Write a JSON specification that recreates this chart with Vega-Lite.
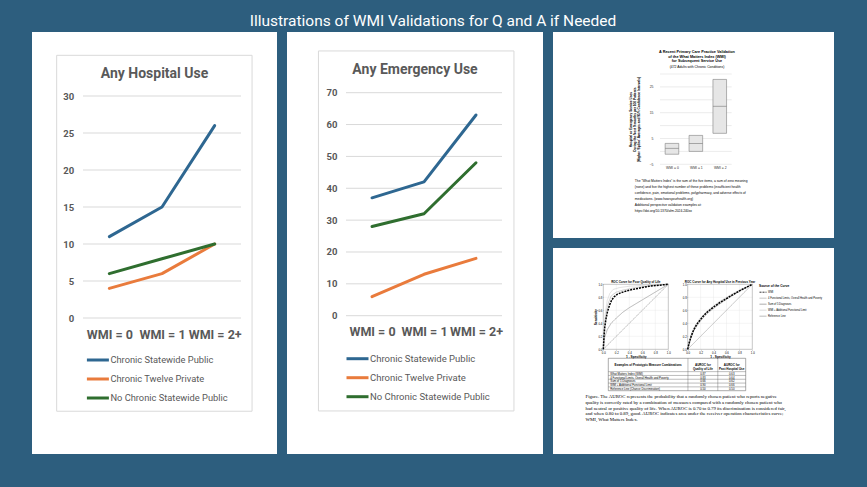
{
"$schema":"https://vega.github.io/schema/vega-lite/v6.json",
"background":"#2d5e7e",
"padding":{"left":32,"top":13,"right":33,"bottom":33},
"title":{"text":"Illustrations of WMI Validations for Q and A if Needed","color":"white","fontSize":15.5,"font":"Roboto","fontWeight":"normal","anchor":"middle","frame":"bounds","offset":3,"baseline":"top"},
"resolve":{"scale":{"color":"independent","strokeDash":"independent"},"legend":{"color":"independent","strokeDash":"independent"}},
"datasets":{
"lines":[
{"chart":"hosp","group":"Chronic Statewide Public","wmi":0,"value":11},
{"chart":"hosp","group":"Chronic Statewide Public","wmi":1,"value":15},
{"chart":"hosp","group":"Chronic Statewide Public","wmi":2,"value":26},
{"chart":"hosp","group":"Chronic Twelve Private","wmi":0,"value":4},
{"chart":"hosp","group":"Chronic Twelve Private","wmi":1,"value":6},
{"chart":"hosp","group":"Chronic Twelve Private","wmi":2,"value":10},
{"chart":"hosp","group":"No Chronic Statewide Public","wmi":0,"value":6},
{"chart":"hosp","group":"No Chronic Statewide Public","wmi":1,"value":8},
{"chart":"hosp","group":"No Chronic Statewide Public","wmi":2,"value":10},
{"chart":"er","group":"Chronic Statewide Public","wmi":0,"value":37},
{"chart":"er","group":"Chronic Statewide Public","wmi":1,"value":42},
{"chart":"er","group":"Chronic Statewide Public","wmi":2,"value":63},
{"chart":"er","group":"Chronic Twelve Private","wmi":0,"value":6},
{"chart":"er","group":"Chronic Twelve Private","wmi":1,"value":13},
{"chart":"er","group":"Chronic Twelve Private","wmi":2,"value":18},
{"chart":"er","group":"No Chronic Statewide Public","wmi":0,"value":28},
{"chart":"er","group":"No Chronic Statewide Public","wmi":1,"value":32},
{"chart":"er","group":"No Chronic Statewide Public","wmi":2,"value":48}
],
"grid1":[{"v":0},{"v":5},{"v":10},{"v":15},{"v":20},{"v":25},{"v":30}],
"grid2":[{"v":0},{"v":10},{"v":20},{"v":30},{"v":40},{"v":50},{"v":60},{"v":70}],
"grid3":[{"v":-5},{"v":0},{"v":5},{"v":10},{"v":15},{"v":20},{"v":25},{"v":30}],
"grid5":[{"v":0.2},{"v":0.4},{"v":0.6},{"v":0.8}],
"ci":[
{"wmi":0,"lower":-1.1,"avg":1.2,"upper":3.1},
{"wmi":1,"lower":0,"avg":3.1,"upper":6.2},
{"wmi":2,"lower":7,"avg":17.5,"upper":27.9}
],
"rocTitles":[
{"chart":"qol","title":"ROC Curve for Poor Quality of Life"},
{"chart":"hosp","title":"ROC Curve for Any Hospital Use in Previous Year"}
],
"roc":[
{"chart":"qol","curve":"WMI","fpr":0,"tpr":0},{"chart":"qol","curve":"WMI","fpr":0.01,"tpr":0.18},{"chart":"qol","curve":"WMI","fpr":0.02,"tpr":0.32},{"chart":"qol","curve":"WMI","fpr":0.04,"tpr":0.46},{"chart":"qol","curve":"WMI","fpr":0.06,"tpr":0.56},{"chart":"qol","curve":"WMI","fpr":0.08,"tpr":0.63},{"chart":"qol","curve":"WMI","fpr":0.1,"tpr":0.69},{"chart":"qol","curve":"WMI","fpr":0.13,"tpr":0.76},{"chart":"qol","curve":"WMI","fpr":0.17,"tpr":0.81},{"chart":"qol","curve":"WMI","fpr":0.22,"tpr":0.85},{"chart":"qol","curve":"WMI","fpr":0.3,"tpr":0.88},{"chart":"qol","curve":"WMI","fpr":0.4,"tpr":0.91},{"chart":"qol","curve":"WMI","fpr":0.5,"tpr":0.93},{"chart":"qol","curve":"WMI","fpr":0.6,"tpr":0.95},{"chart":"qol","curve":"WMI","fpr":0.7,"tpr":0.97},{"chart":"qol","curve":"WMI","fpr":0.8,"tpr":0.98},{"chart":"qol","curve":"WMI","fpr":0.9,"tpr":0.99},{"chart":"qol","curve":"WMI","fpr":1,"tpr":1},
{"chart":"qol","curve":"4 Functional Limits, Overall Health and Poverty","fpr":0,"tpr":0},{"chart":"qol","curve":"4 Functional Limits, Overall Health and Poverty","fpr":0.02,"tpr":0.38},{"chart":"qol","curve":"4 Functional Limits, Overall Health and Poverty","fpr":0.05,"tpr":0.6},{"chart":"qol","curve":"4 Functional Limits, Overall Health and Poverty","fpr":0.08,"tpr":0.72},{"chart":"qol","curve":"4 Functional Limits, Overall Health and Poverty","fpr":0.12,"tpr":0.82},{"chart":"qol","curve":"4 Functional Limits, Overall Health and Poverty","fpr":0.2,"tpr":0.88},{"chart":"qol","curve":"4 Functional Limits, Overall Health and Poverty","fpr":0.3,"tpr":0.91},{"chart":"qol","curve":"4 Functional Limits, Overall Health and Poverty","fpr":0.5,"tpr":0.95},{"chart":"qol","curve":"4 Functional Limits, Overall Health and Poverty","fpr":0.75,"tpr":0.98},{"chart":"qol","curve":"4 Functional Limits, Overall Health and Poverty","fpr":1,"tpr":1},
{"chart":"qol","curve":"Sum of 5 Diagnoses","fpr":0,"tpr":0},{"chart":"qol","curve":"Sum of 5 Diagnoses","fpr":0.02,"tpr":0.18},{"chart":"qol","curve":"Sum of 5 Diagnoses","fpr":0.06,"tpr":0.3},{"chart":"qol","curve":"Sum of 5 Diagnoses","fpr":0.12,"tpr":0.4},{"chart":"qol","curve":"Sum of 5 Diagnoses","fpr":0.2,"tpr":0.48},{"chart":"qol","curve":"Sum of 5 Diagnoses","fpr":0.3,"tpr":0.57},{"chart":"qol","curve":"Sum of 5 Diagnoses","fpr":0.4,"tpr":0.64},{"chart":"qol","curve":"Sum of 5 Diagnoses","fpr":0.5,"tpr":0.7},{"chart":"qol","curve":"Sum of 5 Diagnoses","fpr":0.6,"tpr":0.76},{"chart":"qol","curve":"Sum of 5 Diagnoses","fpr":0.7,"tpr":0.82},{"chart":"qol","curve":"Sum of 5 Diagnoses","fpr":0.8,"tpr":0.88},{"chart":"qol","curve":"Sum of 5 Diagnoses","fpr":0.9,"tpr":0.94},{"chart":"qol","curve":"Sum of 5 Diagnoses","fpr":1,"tpr":1},
{"chart":"qol","curve":"WMI + Additional Functional Limit","fpr":0,"tpr":0},{"chart":"qol","curve":"WMI + Additional Functional Limit","fpr":0.01,"tpr":0.3},{"chart":"qol","curve":"WMI + Additional Functional Limit","fpr":0.03,"tpr":0.55},{"chart":"qol","curve":"WMI + Additional Functional Limit","fpr":0.06,"tpr":0.75},{"chart":"qol","curve":"WMI + Additional Functional Limit","fpr":0.1,"tpr":0.86},{"chart":"qol","curve":"WMI + Additional Functional Limit","fpr":0.15,"tpr":0.92},{"chart":"qol","curve":"WMI + Additional Functional Limit","fpr":0.25,"tpr":0.95},{"chart":"qol","curve":"WMI + Additional Functional Limit","fpr":0.4,"tpr":0.97},{"chart":"qol","curve":"WMI + Additional Functional Limit","fpr":0.7,"tpr":0.99},{"chart":"qol","curve":"WMI + Additional Functional Limit","fpr":1,"tpr":1},
{"chart":"qol","curve":"Reference Line","fpr":0,"tpr":0},{"chart":"qol","curve":"Reference Line","fpr":1,"tpr":1},
{"chart":"hosp","curve":"WMI","fpr":0,"tpr":0},{"chart":"hosp","curve":"WMI","fpr":0.02,"tpr":0.09},{"chart":"hosp","curve":"WMI","fpr":0.05,"tpr":0.19},{"chart":"hosp","curve":"WMI","fpr":0.08,"tpr":0.27},{"chart":"hosp","curve":"WMI","fpr":0.12,"tpr":0.35},{"chart":"hosp","curve":"WMI","fpr":0.16,"tpr":0.41},{"chart":"hosp","curve":"WMI","fpr":0.2,"tpr":0.46},{"chart":"hosp","curve":"WMI","fpr":0.25,"tpr":0.52},{"chart":"hosp","curve":"WMI","fpr":0.3,"tpr":0.57},{"chart":"hosp","curve":"WMI","fpr":0.4,"tpr":0.65},{"chart":"hosp","curve":"WMI","fpr":0.5,"tpr":0.72},{"chart":"hosp","curve":"WMI","fpr":0.6,"tpr":0.78},{"chart":"hosp","curve":"WMI","fpr":0.7,"tpr":0.84},{"chart":"hosp","curve":"WMI","fpr":0.8,"tpr":0.9},{"chart":"hosp","curve":"WMI","fpr":0.9,"tpr":0.95},{"chart":"hosp","curve":"WMI","fpr":1,"tpr":1},
{"chart":"hosp","curve":"4 Functional Limits, Overall Health and Poverty","fpr":0,"tpr":0},{"chart":"hosp","curve":"4 Functional Limits, Overall Health and Poverty","fpr":0.05,"tpr":0.2},{"chart":"hosp","curve":"4 Functional Limits, Overall Health and Poverty","fpr":0.1,"tpr":0.33},{"chart":"hosp","curve":"4 Functional Limits, Overall Health and Poverty","fpr":0.2,"tpr":0.47},{"chart":"hosp","curve":"4 Functional Limits, Overall Health and Poverty","fpr":0.3,"tpr":0.58},{"chart":"hosp","curve":"4 Functional Limits, Overall Health and Poverty","fpr":0.4,"tpr":0.66},{"chart":"hosp","curve":"4 Functional Limits, Overall Health and Poverty","fpr":0.5,"tpr":0.73},{"chart":"hosp","curve":"4 Functional Limits, Overall Health and Poverty","fpr":0.6,"tpr":0.79},{"chart":"hosp","curve":"4 Functional Limits, Overall Health and Poverty","fpr":0.7,"tpr":0.85},{"chart":"hosp","curve":"4 Functional Limits, Overall Health and Poverty","fpr":0.8,"tpr":0.9},{"chart":"hosp","curve":"4 Functional Limits, Overall Health and Poverty","fpr":1,"tpr":1},
{"chart":"hosp","curve":"Sum of 5 Diagnoses","fpr":0,"tpr":0},{"chart":"hosp","curve":"Sum of 5 Diagnoses","fpr":0.05,"tpr":0.17},{"chart":"hosp","curve":"Sum of 5 Diagnoses","fpr":0.1,"tpr":0.3},{"chart":"hosp","curve":"Sum of 5 Diagnoses","fpr":0.2,"tpr":0.44},{"chart":"hosp","curve":"Sum of 5 Diagnoses","fpr":0.3,"tpr":0.55},{"chart":"hosp","curve":"Sum of 5 Diagnoses","fpr":0.4,"tpr":0.63},{"chart":"hosp","curve":"Sum of 5 Diagnoses","fpr":0.5,"tpr":0.7},{"chart":"hosp","curve":"Sum of 5 Diagnoses","fpr":0.6,"tpr":0.77},{"chart":"hosp","curve":"Sum of 5 Diagnoses","fpr":0.7,"tpr":0.83},{"chart":"hosp","curve":"Sum of 5 Diagnoses","fpr":0.8,"tpr":0.89},{"chart":"hosp","curve":"Sum of 5 Diagnoses","fpr":1,"tpr":1},
{"chart":"hosp","curve":"WMI + Additional Functional Limit","fpr":0,"tpr":0},{"chart":"hosp","curve":"WMI + Additional Functional Limit","fpr":0.05,"tpr":0.21},{"chart":"hosp","curve":"WMI + Additional Functional Limit","fpr":0.1,"tpr":0.34},{"chart":"hosp","curve":"WMI + Additional Functional Limit","fpr":0.2,"tpr":0.49},{"chart":"hosp","curve":"WMI + Additional Functional Limit","fpr":0.3,"tpr":0.59},{"chart":"hosp","curve":"WMI + Additional Functional Limit","fpr":0.4,"tpr":0.67},{"chart":"hosp","curve":"WMI + Additional Functional Limit","fpr":0.5,"tpr":0.74},{"chart":"hosp","curve":"WMI + Additional Functional Limit","fpr":0.6,"tpr":0.8},{"chart":"hosp","curve":"WMI + Additional Functional Limit","fpr":0.7,"tpr":0.86},{"chart":"hosp","curve":"WMI + Additional Functional Limit","fpr":0.8,"tpr":0.91},{"chart":"hosp","curve":"WMI + Additional Functional Limit","fpr":1,"tpr":1},
{"chart":"hosp","curve":"Reference Line","fpr":0,"tpr":0},{"chart":"hosp","curve":"Reference Line","fpr":1,"tpr":1}
],
"tableRows":[
{"row":0,"measure":"What Matters Index (WMI)","qol":"0.87","hosp":"0.63"},
{"row":1,"measure":"4 Functional Limits, Overall Health and Poverty","qol":"0.83","hosp":"0.64"},
{"row":2,"measure":"Sum of 5 Diagnoses","qol":"0.66","hosp":"0.62"},
{"row":3,"measure":"WMI + Additional Functional Limit","qol":"0.90","hosp":"0.66"},
{"row":4,"measure":"Reference Line (Chance Discrimination)","qol":"0.50","hosp":"0.50"}
],
"tableHeader":[
{"col":0,"text":"Examples of Prototypic Measure Combinations"},
{"col":1,"text":"AUROC for\nQuality of Life"},
{"col":2,"text":"AUROC for\nPast Hospital Use"}
]
},
"spacing":10,
"hconcat":[
{
"width":245,"height":422,
"title":{"text":"Any Hospital Use","anchor":"middle","fontSize":14,"fontWeight":"bold","color":"#595959","font":"Roboto","baseline":"middle","offset":-56},
"layer":[
{"data":{"values":[{}]},"mark":{"type":"rect","fillOpacity":0,"stroke":"#d9d9d9","strokeWidth":1},
"encoding":{"x":{"datum":-1.0,"type":"quantitative","scale":{"domain":[-0.5,2.5],"range":[51,209],"nice":false,"zero":false}},"x2":{"datum":2.71},"y":{"datum":35.5,"type":"quantitative","scale":{"domain":[0,30],"range":[286,64],"nice":false,"zero":false}},"y2":{"datum":-12.6}}},
{"data":{"name":"grid1"},"mark":{"type":"rule","stroke":"#d9d9d9","strokeWidth":1},
"encoding":{"y":{"field":"v","type":"quantitative","scale":{"domain":[0,30],"range":[286,64],"nice":false,"zero":false}},"x":{"datum":-0.5,"type":"quantitative","scale":{"domain":[-0.5,2.5],"range":[51,209],"nice":false,"zero":false}},"x2":{"datum":2.5}}},
{"data":{"name":"lines"},"transform":[{"filter":"datum.chart == 'hosp'"}],
"mark":{"type":"line","strokeWidth":3,"strokeCap":"round","strokeJoin":"round"},
"encoding":{
"x":{"field":"wmi","type":"quantitative","scale":{"domain":[-0.5,2.5],"range":[51,209],"nice":false,"zero":false},
"axis":{"orient":"bottom","offset":-126,"values":[0,1,2],"labelExpr":"'WMI = ' + datum.value + (datum.value == 2 ? '+' : '')","domain":false,"ticks":false,"grid":false,"title":null,"labelFontSize":12.5,"labelFontWeight":"bold","labelColor":"#595959","labelFont":"Roboto","labelPadding":0,"labelFlush":false,"labelOverlap":false,"labelBound":false}},
"y":{"field":"value","type":"quantitative","scale":{"domain":[0,30],"range":[286,64],"nice":false,"zero":false},
"axis":{"orient":"left","offset":-41.7,"values":[0,5,10,15,20,25,30],"domain":false,"ticks":false,"grid":false,"title":null,"labelFontSize":9.5,"labelFontWeight":"bold","labelColor":"#595959","labelFont":"Roboto","labelPadding":0,"minExtent":0}},
"color":{"field":"group","type":"nominal","scale":{"domain":["Chronic Statewide Public","Chronic Twelve Private","No Chronic Statewide Public"],"range":["#2e6791","#e97b3c","#2f6e2f"]},
"legend":{"orient":"none","legendX":53.4,"legendY":315.5,"title":null,"symbolType":"stroke","symbolSize":484,"symbolStrokeWidth":3,"labelFontSize":9.3,"labelColor":"#595959","labelFont":"Roboto","rowPadding":-3,"labelOffset":0,"direction":"vertical"}}
}}
]
},
{
"width":256,"height":422,
"title":{"text":"Any Emergency Use","anchor":"middle","fontSize":14,"fontWeight":"bold","color":"#595959","font":"Roboto","baseline":"middle","offset":-52},
"layer":[
{"data":{"values":[{}]},"mark":{"type":"rect","fillOpacity":0,"stroke":"#d9d9d9","strokeWidth":1},
"encoding":{"x":{"datum":-1.03,"type":"quantitative","scale":{"domain":[-0.5,2.5],"range":[59,215],"nice":false,"zero":false}},"x2":{"datum":2.73},"y":{"datum":83.1,"type":"quantitative","scale":{"domain":[0,70],"range":[283.7,60.7],"nice":false,"zero":false}},"y2":{"datum":-29.9}}},
{"data":{"name":"grid2"},"mark":{"type":"rule","stroke":"#d9d9d9","strokeWidth":1},
"encoding":{"y":{"field":"v","type":"quantitative","scale":{"domain":[0,70],"range":[283.7,60.7],"nice":false,"zero":false}},"x":{"datum":-0.5,"type":"quantitative","scale":{"domain":[-0.5,2.5],"range":[59,215],"nice":false,"zero":false}},"x2":{"datum":2.5}}},
{"data":{"name":"lines"},"transform":[{"filter":"datum.chart == 'er'"}],
"mark":{"type":"line","strokeWidth":3,"strokeCap":"round","strokeJoin":"round"},
"encoding":{
"x":{"field":"wmi","type":"quantitative","scale":{"domain":[-0.5,2.5],"range":[59,215],"nice":false,"zero":false},
"axis":{"orient":"bottom","offset":-128.3,"values":[0,1,2],"labelExpr":"'WMI = ' + datum.value + (datum.value == 2 ? '+' : '')","domain":false,"ticks":false,"grid":false,"title":null,"labelFontSize":12.5,"labelFontWeight":"bold","labelColor":"#595959","labelFont":"Roboto","labelPadding":0,"labelFlush":false,"labelOverlap":false,"labelBound":false}},
"y":{"field":"value","type":"quantitative","scale":{"domain":[0,70],"range":[283.7,60.7],"nice":false,"zero":false},
"axis":{"orient":"left","offset":-50,"values":[0,10,20,30,40,50,60,70],"domain":false,"ticks":false,"grid":false,"title":null,"labelFontSize":9.5,"labelFontWeight":"bold","labelColor":"#595959","labelFont":"Roboto","labelPadding":0,"minExtent":0}},
"color":{"field":"group","type":"nominal","scale":{"domain":["Chronic Statewide Public","Chronic Twelve Private","No Chronic Statewide Public"],"range":["#2e6791","#e97b3c","#2f6e2f"]},
"legend":{"orient":"none","legendX":58,"legendY":314.2,"title":null,"symbolType":"stroke","symbolSize":484,"symbolStrokeWidth":3,"labelFontSize":9.5,"labelColor":"#595959","labelFont":"Roboto","rowPadding":-3,"labelOffset":0,"direction":"vertical"}}
}}
]
},
{
"spacing":10,
"resolve":{"scale":{"color":"independent","strokeDash":"independent"},"legend":{"color":"independent","strokeDash":"independent"}},
"vconcat":[
{
"width":281,"height":206,
"title":{"text":["A Recent Primary Care Practice Validation","of the What Matters Index (WMI)","for Subsequent Service Use"],"subtitle":"(472 Adults with Chronic Conditions)","fontSize":3.8,"fontWeight":"bold","color":"#000000","font":"Liberation Sans, Arial, sans-serif","lineHeight":4.7,"subtitleFontSize":3.4,"subtitleColor":"#000000","subtitleFont":"Liberation Sans, Arial, sans-serif","subtitlePadding":1.5,"anchor":"middle","dx":3.5,"offset":-36,"baseline":"top"},
"layer":[
{"data":{"name":"grid3"},"mark":{"type":"rule","stroke":"#d9d9d9","strokeWidth":0.5},
"encoding":{"y":{"field":"v","type":"quantitative","scale":{"domain":[-5,30],"range":[132.3,42],"nice":false,"zero":false}},"x":{"datum":-0.5,"type":"quantitative","scale":{"domain":[-0.5,2.5],"range":[102,183.7],"nice":false,"zero":false}},"x2":{"datum":2.5}}},
{"data":{"name":"ci"},"mark":{"type":"bar","size":13.6,"fill":"#e6e6e6","stroke":"#808080","strokeWidth":0.6},
"encoding":{
"x":{"field":"wmi","type":"quantitative","scale":{"domain":[-0.5,2.5],"range":[102,183.7],"nice":false,"zero":false},
"axis":{"orient":"bottom","offset":-73.7,"values":[0,1,2],"labelExpr":"'WMI = ' + datum.value","domain":false,"ticks":false,"grid":false,"labelFontSize":3.4,"labelColor":"#303030","labelPadding":1,"labelFont":"Liberation Sans, Arial, sans-serif","labelFlush":false,"labelOverlap":false,
"title":["The \u201cWhat Matters Index\u201d is the sum of the five items, a sum of zero meaning","(none) and five the highest number of these problems (insufficient health","confidence, pain, emotional problems, polypharmacy, and adverse effects of","medications. (www.howsyourhealth.org)",""," Additional perspective validation examples at:","https://doi.org/10.1370/afm.2024.240xx"],
"titleFontSize":3.3,"titleFontWeight":"normal","titleColor":"#000000","titleFont":"Liberation Sans, Arial, sans-serif","titleAnchor":"start","titleAlign":"left","titleBaseline":"top","titleX":81.3,"titleY":14.2,"titleLineHeight":6}},
"y":{"field":"lower","type":"quantitative","scale":{"domain":[-5,30],"range":[132.3,42],"nice":false,"zero":false},
"axis":{"orient":"left","offset":-102,"values":[-5,0,5,10,15,20,25,30],"domain":false,"ticks":false,"grid":false,"labelFontSize":3.4,"labelColor":"#303030","labelPadding":2,"labelFont":"Liberation Sans, Arial, sans-serif","minExtent":0,
"title":["Hospital or Emergency Service Uses","During the Next 9 months per 100 Patients","(Higher \u2018Spline\u2019 Averages and 95% Confidence Intervals)"],"titleFontSize":3.2,"titleFontWeight":"bold","titleColor":"#000000","titleFont":"Liberation Sans, Arial, sans-serif","titlePadding":9,"titleLineHeight":4}},
"y2":{"field":"upper"}
}},
{"data":{"name":"ci"},"mark":{"type":"tick","orient":"horizontal","size":13.6,"thickness":0.8,"color":"#707070"},
"encoding":{"x":{"field":"wmi","type":"quantitative","scale":{"domain":[-0.5,2.5],"range":[102,183.7],"nice":false,"zero":false}},"y":{"field":"avg","type":"quantitative","scale":{"domain":[-5,30],"range":[132.3,42],"nice":false,"zero":false}}}}
]
},
{
"width":281,"height":206,
"resolve":{"scale":{"x":"independent","y":"independent","color":"independent","strokeDash":"independent"},"axis":{"x":"independent","y":"independent"},"legend":{"color":"independent","strokeDash":"independent"}},
"layer":[
{"layer":[
{"data":{"name":"grid5"},"mark":{"type":"rule","stroke":"#e3e3e3","strokeWidth":0.4},"encoding":{"x":{"field":"v","type":"quantitative","scale":{"domain":[0,1],"range":[50.3,115.3],"nice":false,"zero":false}},"y":{"datum":0,"type":"quantitative","scale":{"domain":[0,1],"range":[101.3,36.3],"nice":false,"zero":false}},"y2":{"datum":1}}},
{"data":{"name":"grid5"},"mark":{"type":"rule","stroke":"#e3e3e3","strokeWidth":0.4},"encoding":{"y":{"field":"v","type":"quantitative","scale":{"domain":[0,1],"range":[101.3,36.3],"nice":false,"zero":false}},"x":{"datum":0,"type":"quantitative","scale":{"domain":[0,1],"range":[50.3,115.3],"nice":false,"zero":false}},"x2":{"datum":1}}},
{"data":{"values":[{}]},"mark":{"type":"rect","fillOpacity":0,"stroke":"#8c8c8c","strokeWidth":0.5},"encoding":{"x":{"datum":0,"type":"quantitative","scale":{"domain":[0,1],"range":[50.3,115.3],"nice":false,"zero":false}},"x2":{"datum":1},"y":{"datum":0,"type":"quantitative","scale":{"domain":[0,1],"range":[101.3,36.3],"nice":false,"zero":false}},"y2":{"datum":1}}},
{"data":{"name":"roc"},"transform":[{"filter":"datum.chart == 'qol' && datum.curve != 'WMI'"}],"mark":{"type":"line","strokeWidth":0.6},
"encoding":{
"x":{"field":"fpr","type":"quantitative","scale":{"domain":[0,1],"range":[50.3,115.3],"nice":false,"zero":false},"axis":{"orient":"bottom","offset":-104.7,"values":[0,0.2,0.4,0.6,0.8,1],"format":".1f","labelFontSize":2.8,"labelPadding":0.5,"tickSize":1,"tickWidth":0.4,"domain":false,"grid":false,"title":"1 - Specificity","titleFontSize":3.2,"titleFontWeight":"bold","titlePadding":0.5,"labelColor":"#000000","titleColor":"#000000","labelFlush":false,"minExtent":0}},
"y":{"field":"tpr","type":"quantitative","scale":{"domain":[0,1],"range":[101.3,36.3],"nice":false,"zero":false},"axis":{"orient":"left","offset":-50.3,"values":[0,0.2,0.4,0.6,0.8,1],"format":".1f","labelFontSize":2.8,"labelPadding":0.5,"tickSize":1,"tickWidth":0.4,"domain":false,"grid":false,"title":"Sensitivity","titleFontSize":3.2,"titleFontWeight":"bold","titlePadding":1,"labelColor":"#000000","titleColor":"#000000","minExtent":0}},
"color":{"field":"curve","type":"nominal","scale":{"domain":["WMI","4 Functional Limits, Overall Health and Poverty","Sum of 5 Diagnoses","WMI + Additional Functional Limit","Reference Line"],"range":["#000000","#b0b0b0","#8a8a8a","#cfcfcf","#a0a0a0"]},"legend":null},
"strokeDash":{"field":"curve","type":"nominal","scale":{"domain":["WMI","4 Functional Limits, Overall Health and Poverty","Sum of 5 Diagnoses","WMI + Additional Functional Limit","Reference Line"],"range":[[2,1],[1,0],[1,0],[1,0],[1,0]]},"legend":null}
}},
{"data":{"name":"roc"},"transform":[{"filter":"datum.chart == 'qol' && datum.curve == 'WMI'"}],"mark":{"type":"line","strokeWidth":1.5},
"encoding":{
"x":{"field":"fpr","type":"quantitative","scale":{"domain":[0,1],"range":[50.3,115.3],"nice":false,"zero":false}},
"y":{"field":"tpr","type":"quantitative","scale":{"domain":[0,1],"range":[101.3,36.3],"nice":false,"zero":false}},
"color":{"field":"curve","type":"nominal","scale":{"domain":["WMI","4 Functional Limits, Overall Health and Poverty","Sum of 5 Diagnoses","WMI + Additional Functional Limit","Reference Line"],"range":["#000000","#b0b0b0","#8a8a8a","#cfcfcf","#a0a0a0"]},"legend":null},
"strokeDash":{"field":"curve","type":"nominal","scale":{"domain":["WMI","4 Functional Limits, Overall Health and Poverty","Sum of 5 Diagnoses","WMI + Additional Functional Limit","Reference Line"],"range":[[2,1],[1,0],[1,0],[1,0],[1,0]]},"legend":null}
}},
{"data":{"name":"rocTitles"},"transform":[{"filter":"datum.chart == 'qol'"}],"mark":{"type":"text","fontSize":3,"fontWeight":"bold","font":"Liberation Sans, Arial, sans-serif","color":"#000000","baseline":"middle","align":"center"},
"encoding":{"text":{"field":"title"},"x":{"datum":0.5,"type":"quantitative","scale":{"domain":[0,1],"range":[50.3,115.3],"nice":false,"zero":false}},"y":{"datum":1.04,"type":"quantitative","scale":{"domain":[0,1],"range":[101.3,36.3],"nice":false,"zero":false}}}}
]},
{"layer":[
{"data":{"name":"grid5"},"mark":{"type":"rule","stroke":"#e3e3e3","strokeWidth":0.4},"encoding":{"x":{"field":"v","type":"quantitative","scale":{"domain":[0,1],"range":[134.7,199.3],"nice":false,"zero":false}},"y":{"datum":0,"type":"quantitative","scale":{"domain":[0,1],"range":[101.3,36.3],"nice":false,"zero":false}},"y2":{"datum":1}}},
{"data":{"name":"grid5"},"mark":{"type":"rule","stroke":"#e3e3e3","strokeWidth":0.4},"encoding":{"y":{"field":"v","type":"quantitative","scale":{"domain":[0,1],"range":[101.3,36.3],"nice":false,"zero":false}},"x":{"datum":0,"type":"quantitative","scale":{"domain":[0,1],"range":[134.7,199.3],"nice":false,"zero":false}},"x2":{"datum":1}}},
{"data":{"values":[{}]},"mark":{"type":"rect","fillOpacity":0,"stroke":"#8c8c8c","strokeWidth":0.5},"encoding":{"x":{"datum":0,"type":"quantitative","scale":{"domain":[0,1],"range":[134.7,199.3],"nice":false,"zero":false}},"x2":{"datum":1},"y":{"datum":0,"type":"quantitative","scale":{"domain":[0,1],"range":[101.3,36.3],"nice":false,"zero":false}},"y2":{"datum":1}}},
{"data":{"name":"roc"},"transform":[{"filter":"datum.chart == 'hosp' && datum.curve != 'WMI'"}],"mark":{"type":"line","strokeWidth":0.6},
"encoding":{
"x":{"field":"fpr","type":"quantitative","scale":{"domain":[0,1],"range":[134.7,199.3],"nice":false,"zero":false},"axis":{"orient":"bottom","offset":-104.7,"values":[0,0.2,0.4,0.6,0.8,1],"format":".1f","labelFontSize":2.8,"labelPadding":0.5,"tickSize":1,"tickWidth":0.4,"domain":false,"grid":false,"title":"1 - Specificity","titleFontSize":3.2,"titleFontWeight":"bold","titlePadding":0.5,"labelColor":"#000000","titleColor":"#000000","labelFlush":false,"minExtent":0}},
"y":{"field":"tpr","type":"quantitative","scale":{"domain":[0,1],"range":[101.3,36.3],"nice":false,"zero":false},"axis":{"orient":"left","offset":-134.7,"values":[0,0.2,0.4,0.6,0.8,1],"format":".1f","labelFontSize":2.8,"labelPadding":0.5,"tickSize":1,"tickWidth":0.4,"domain":false,"grid":false,"title":null,"labelColor":"#000000","minExtent":0}},
"color":{"field":"curve","type":"nominal","scale":{"domain":["WMI","4 Functional Limits, Overall Health and Poverty","Sum of 5 Diagnoses","WMI + Additional Functional Limit","Reference Line"],"range":["#000000","#b0b0b0","#8a8a8a","#cfcfcf","#a0a0a0"]},
"legend":{"orient":"none","legendX":206,"legendY":36,"title":"Source of the Curve","titleFontSize":3.2,"titleFont":"Liberation Sans, Arial, sans-serif","titleColor":"#000000","titlePadding":1,"labelFontSize":2.6,"labelColor":"#000000","labelFont":"Liberation Sans, Arial, sans-serif","symbolType":"stroke","symbolSize":49,"symbolStrokeWidth":0.8,"rowPadding":-3.3,"labelOffset":1,"labelLimit":200}},
"strokeDash":{"field":"curve","type":"nominal","scale":{"domain":["WMI","4 Functional Limits, Overall Health and Poverty","Sum of 5 Diagnoses","WMI + Additional Functional Limit","Reference Line"],"range":[[2,1],[1,0],[1,0],[1,0],[1,0]]},
"legend":{"orient":"none","legendX":206,"legendY":36,"title":"Source of the Curve","titleFontSize":3.2,"titleFont":"Liberation Sans, Arial, sans-serif","titleColor":"#000000","titlePadding":1,"labelFontSize":2.6,"labelColor":"#000000","labelFont":"Liberation Sans, Arial, sans-serif","symbolType":"stroke","symbolSize":49,"symbolStrokeWidth":0.8,"rowPadding":-3.3,"labelOffset":1,"labelLimit":200}}
}},
{"data":{"name":"roc"},"transform":[{"filter":"datum.chart == 'hosp' && datum.curve == 'WMI'"}],"mark":{"type":"line","strokeWidth":1.5},
"encoding":{
"x":{"field":"fpr","type":"quantitative","scale":{"domain":[0,1],"range":[134.7,199.3],"nice":false,"zero":false}},
"y":{"field":"tpr","type":"quantitative","scale":{"domain":[0,1],"range":[101.3,36.3],"nice":false,"zero":false}},
"color":{"field":"curve","type":"nominal","scale":{"domain":["WMI","4 Functional Limits, Overall Health and Poverty","Sum of 5 Diagnoses","WMI + Additional Functional Limit","Reference Line"],"range":["#000000","#b0b0b0","#8a8a8a","#cfcfcf","#a0a0a0"]}},
"strokeDash":{"field":"curve","type":"nominal","scale":{"domain":["WMI","4 Functional Limits, Overall Health and Poverty","Sum of 5 Diagnoses","WMI + Additional Functional Limit","Reference Line"],"range":[[2,1],[1,0],[1,0],[1,0],[1,0]]}}
}},
{"data":{"name":"rocTitles"},"transform":[{"filter":"datum.chart == 'hosp'"}],"mark":{"type":"text","fontSize":3,"fontWeight":"bold","font":"Liberation Sans, Arial, sans-serif","color":"#000000","baseline":"middle","align":"center"},
"encoding":{"text":{"field":"title"},"x":{"datum":0.5,"type":"quantitative","scale":{"domain":[0,1],"range":[134.7,199.3],"nice":false,"zero":false}},"y":{"datum":1.04,"type":"quantitative","scale":{"domain":[0,1],"range":[101.3,36.3],"nice":false,"zero":false}}}}
]},
{"layer":[
{"data":{"values":[{}]},"mark":{"type":"rect","fillOpacity":0,"stroke":"#595959","strokeWidth":0.5},
"encoding":{"x":{"datum":0,"type":"quantitative","scale":{"domain":[0,138],"range":[55.3,192.7],"nice":false,"zero":false},
"axis":{"orient":"bottom","offset":-63.3,"labels":false,"ticks":false,"domain":false,"grid":false,
"title":["Figure. The AUROC represents the probability that a randomly chosen patient who reports negative","quality is correctly rated by a combination of measures compared with a randomly chosen patient who","had neutral or positive quality of life. When AUROC is 0.70 to 0.79 its discrimination is considered fair,","and when 0.80 to 0.89, good. AUROC indicates area under the receiver operation characteristics curve;","WMI, What Matters Index."],
"titleFont":"Liberation Serif, Times New Roman, serif","titleFontSize":4.8,"titleFontWeight":"normal","titleColor":"#000000","titleAnchor":"start","titleAlign":"left","titleBaseline":"top","titleX":32,"titleY":3,"titleLineHeight":5.7}},
"x2":{"datum":138},
"y":{"datum":-3.5,"type":"quantitative","scale":{"domain":[-3.5,5],"range":[110.3,142.7],"nice":false,"zero":false},"axis":null},
"y2":{"datum":5}}},
{"data":{"name":"tableRows"},"mark":{"type":"rule","stroke":"#595959","strokeWidth":0.4},
"encoding":{"y":{"field":"row","type":"quantitative","scale":{"domain":[-3.5,5],"range":[110.3,142.7],"nice":false,"zero":false},"axis":null},"x":{"datum":0,"type":"quantitative","scale":{"domain":[0,138],"range":[55.3,192.7],"nice":false,"zero":false}},"x2":{"datum":138}}},
{"data":{"values":[{}]},"mark":{"type":"rule","stroke":"#595959","strokeWidth":0.4},
"encoding":{"x":{"datum":80,"type":"quantitative","scale":{"domain":[0,138],"range":[55.3,192.7],"nice":false,"zero":false}},"y":{"datum":-3.5,"type":"quantitative","scale":{"domain":[-3.5,5],"range":[110.3,142.7],"nice":false,"zero":false},"axis":null},"y2":{"datum":5}}},
{"data":{"values":[{}]},"mark":{"type":"rule","stroke":"#595959","strokeWidth":0.4},
"encoding":{"x":{"datum":110,"type":"quantitative","scale":{"domain":[0,138],"range":[55.3,192.7],"nice":false,"zero":false}},"y":{"datum":-3.5,"type":"quantitative","scale":{"domain":[-3.5,5],"range":[110.3,142.7],"nice":false,"zero":false},"axis":null},"y2":{"datum":5}}},
{"data":{"name":"tableRows"},"mark":{"type":"text","fontSize":2.8,"font":"Liberation Sans, Arial, sans-serif","color":"#000000","baseline":"top","align":"left","dy":0.6},
"encoding":{"text":{"field":"measure"},"x":{"datum":2,"type":"quantitative","scale":{"domain":[0,138],"range":[55.3,192.7],"nice":false,"zero":false}},"y":{"field":"row","type":"quantitative","scale":{"domain":[-3.5,5],"range":[110.3,142.7],"nice":false,"zero":false},"axis":null}}},
{"data":{"name":"tableRows"},"mark":{"type":"text","fontSize":2.8,"font":"Liberation Sans, Arial, sans-serif","color":"#000000","baseline":"top","align":"center","dy":0.6},
"encoding":{"text":{"field":"qol"},"x":{"datum":95,"type":"quantitative","scale":{"domain":[0,138],"range":[55.3,192.7],"nice":false,"zero":false}},"y":{"field":"row","type":"quantitative","scale":{"domain":[-3.5,5],"range":[110.3,142.7],"nice":false,"zero":false},"axis":null}}},
{"data":{"name":"tableRows"},"mark":{"type":"text","fontSize":2.8,"font":"Liberation Sans, Arial, sans-serif","color":"#000000","baseline":"top","align":"center","dy":0.6},
"encoding":{"text":{"field":"hosp"},"x":{"datum":124,"type":"quantitative","scale":{"domain":[0,138],"range":[55.3,192.7],"nice":false,"zero":false}},"y":{"field":"row","type":"quantitative","scale":{"domain":[-3.5,5],"range":[110.3,142.7],"nice":false,"zero":false},"axis":null}}},
{"data":{"name":"tableHeader"},"transform":[{"filter":"datum.col == 0"}],"mark":{"type":"text","fontSize":3,"fontWeight":"bold","font":"Liberation Sans, Arial, sans-serif","color":"#000000","baseline":"middle","align":"center","lineBreak":"\n"},
"encoding":{"text":{"field":"text"},"x":{"datum":40,"type":"quantitative","scale":{"domain":[0,138],"range":[55.3,192.7],"nice":false,"zero":false}},"y":{"datum":-1.75,"type":"quantitative","scale":{"domain":[-3.5,5],"range":[110.3,142.7],"nice":false,"zero":false},"axis":null}}},
{"data":{"name":"tableHeader"},"transform":[{"filter":"datum.col == 1"}],"mark":{"type":"text","fontSize":3,"fontWeight":"bold","font":"Liberation Sans, Arial, sans-serif","color":"#000000","baseline":"middle","align":"center","lineBreak":"\n","lineHeight":3.6},
"encoding":{"text":{"field":"text"},"x":{"datum":95,"type":"quantitative","scale":{"domain":[0,138],"range":[55.3,192.7],"nice":false,"zero":false}},"y":{"datum":-1.75,"type":"quantitative","scale":{"domain":[-3.5,5],"range":[110.3,142.7],"nice":false,"zero":false},"axis":null}}},
{"data":{"name":"tableHeader"},"transform":[{"filter":"datum.col == 2"}],"mark":{"type":"text","fontSize":3,"fontWeight":"bold","font":"Liberation Sans, Arial, sans-serif","color":"#000000","baseline":"middle","align":"center","lineBreak":"\n","lineHeight":3.6},
"encoding":{"text":{"field":"text"},"x":{"datum":124,"type":"quantitative","scale":{"domain":[0,138],"range":[55.3,192.7],"nice":false,"zero":false}},"y":{"datum":-1.75,"type":"quantitative","scale":{"domain":[-3.5,5],"range":[110.3,142.7],"nice":false,"zero":false},"axis":null}}}
]}
]
}
]
}
],
"config":{"view":{"fill":"white","stroke":null}}
}
